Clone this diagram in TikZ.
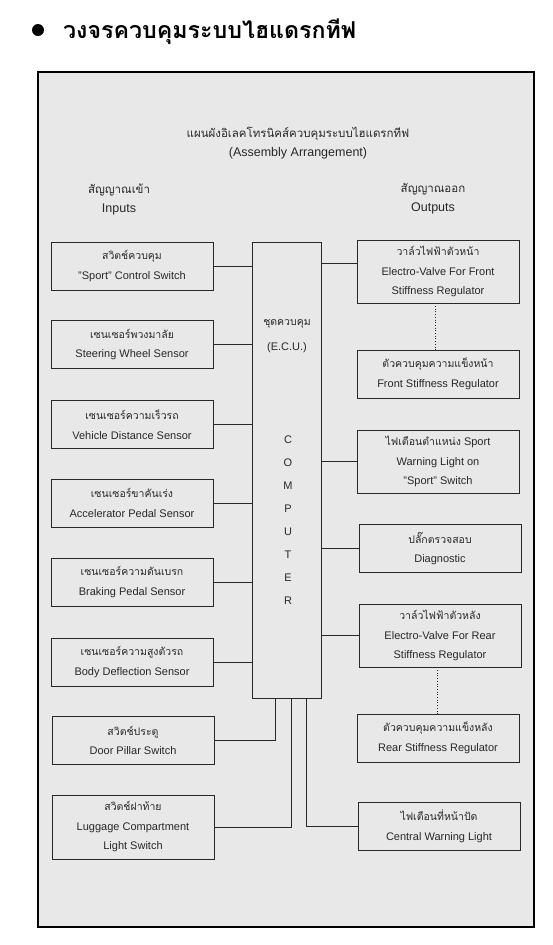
\documentclass[tikz,border=0pt]{standalone}
\usepackage{fontspec}
\setmainfont{Liberation Sans}
\newfontfamily\thaifont[Script=Thai]{Loma}
\definecolor{panelgrey}{RGB}{232,232,232}
\definecolor{inkgrey}{RGB}{40,40,40}

\begin{document}
\begin{tikzpicture}[x=1pt, y=-1pt,
    box/.style={draw=inkgrey, line width=0.7pt, minimum width=162pt, minimum height=48pt,
        align=center, inner sep=0pt, text=inkgrey, font=\fontsize{11}{19.5}\selectfont},
    tallbox/.style={box, minimum height=63pt},
    wire/.style={draw=inkgrey, line width=0.7pt},
    lbl/.style={align=center, text=inkgrey, font=\fontsize{12.5}{19}\selectfont}]
    \useasboundingbox (0,0) rectangle (552,945);

    % หัวเรื่อง
    \fill (38,30) circle (6);
    \node[anchor=west, inner sep=0pt] (title) at (63,32)
        {\fontsize{23.2}{25}\selectfont\thaifont\bfseries วงจรควบคุมระบบไฮแดรกทีฟ};

    % กรอบพื้นเทา
    \draw[line width=1.8pt, fill=panelgrey] (38,72) rectangle (534,927);

    \node[lbl] (head) at (298,143) {{\thaifont\fontsize{11.5}{19}\selectfont แผนผังอิเลคโทรนิคส์ควบคุมระบบไฮแดรกทีฟ}\\(Assembly Arrangement)};
    \node[lbl] (inhead) at (119,199) {{\thaifont\fontsize{11.5}{19}\selectfont สัญญาณเข้า}\\Inputs};
    \node[lbl] (outhead) at (433,199) {{\thaifont\fontsize{11.5}{19}\selectfont สัญญาณออก}\\Outputs};

    % สัญญาณเข้า
    \node[box] (sportsw) at (132,266) {{\thaifont\fontsize{10.5}{19.5}\selectfont สวิตช์ควบคุม}\\"Sport" Control Switch};
    \node[box] (steer) at (132,344.5) {{\thaifont\fontsize{10.5}{19.5}\selectfont เซนเซอร์พวงมาลัย}\\Steering Wheel Sensor};
    \node[box] (speed) at (132,424.5) {{\thaifont\fontsize{10.5}{19.5}\selectfont เซนเซอร์ความเร็วรถ}\\Vehicle Distance Sensor};
    \node[box] (accel) at (132,503) {{\thaifont\fontsize{10.5}{19.5}\selectfont เซนเซอร์ขาคันเร่ง}\\Accelerator Pedal Sensor};
    \node[box] (brake) at (132,582) {{\thaifont\fontsize{10.5}{19.5}\selectfont เซนเซอร์ความดันเบรก}\\Braking Pedal Sensor};
    \node[box] (height) at (132,662) {{\thaifont\fontsize{10.5}{19.5}\selectfont เซนเซอร์ความสูงตัวรถ}\\Body Deflection Sensor};
    \node[box] (door) at (133,740.5) {{\thaifont\fontsize{10.5}{19.5}\selectfont สวิตช์ประตู}\\Door Pillar Switch};
    \node[tallbox, minimum height=64pt] (boot) at (133,827) {{\thaifont\fontsize{10.5}{19.5}\selectfont สวิตช์ฝาท้าย}\\Luggage Compartment\\Light Switch};

    % ชุดควบคุม
    \node[draw=inkgrey, line width=0.7pt, minimum width=69pt, minimum height=456pt] (ecu) at (286.5,470) {};
    \node[lbl, font=\fontsize{11}{25}\selectfont] (ecuname) at (287,336) {{\thaifont\fontsize{10.5}{25}\selectfont ชุดควบคุม}\\(E.C.U.)};
    \node[lbl, font=\fontsize{11}{23}\selectfont] (comp) at (288,520) {C\\O\\M\\P\\U\\T\\E\\R};

    % สัญญาณออก
    \node[tallbox] (fvalve) at (438,271.5) {{\thaifont\fontsize{10.5}{19.5}\selectfont วาล์วไฟฟ้าตัวหน้า}\\Electro-Valve For Front\\Stiffness Regulator};
    \node[box] (freg) at (438,374) {{\thaifont\fontsize{10.5}{19.5}\selectfont ตัวควบคุมความแข็งหน้า}\\Front Stiffness Regulator};
    \node[tallbox] (sportlamp) at (438,461.5) {{\thaifont\fontsize{10.5}{19.5}\selectfont ไฟเตือนตำแหน่ง} Sport\\Warning Light on\\"Sport" Switch};
    \node[box] (diag) at (440,548.5) {{\thaifont\fontsize{10.5}{19.5}\selectfont ปลั๊กตรวจสอบ}\\Diagnostic};
    \node[tallbox] (rvalve) at (440,635.5) {{\thaifont\fontsize{10.5}{19.5}\selectfont วาล์วไฟฟ้าตัวหลัง}\\Electro-Valve For Rear\\Stiffness Regulator};
    \node[box] (rreg) at (438,738) {{\thaifont\fontsize{10.5}{19.5}\selectfont ตัวควบคุมความแข็งหลัง}\\Rear Stiffness Regulator};
    \node[box] (warnlamp) at (439,826) {{\thaifont\fontsize{10.5}{19.5}\selectfont ไฟเตือนที่หน้าปัด}\\Central Warning Light};

    % สายเข้า
    \foreach \n in {sportsw, steer, speed, accel, brake, height}
        \draw[wire] (\n.east) -- (\n.east -| ecu.west);
    \draw[wire] (door.east) -| ([xshift=-11.5pt]ecu.south);
    \draw[wire] (boot.east) -| ([xshift=4.5pt]ecu.south);

    % สายออก
    \draw[wire] ([yshift=8.5pt]fvalve.west) -- ([yshift=8.5pt]fvalve.west -| ecu.east);
    \foreach \n in {sportlamp, diag, rvalve}
        \draw[wire] (\n.west) -- (\n.west -| ecu.east);
    \draw[wire] (warnlamp.west) -| ([xshift=19.5pt]ecu.south);
    \draw[wire, dotted] ([xshift=-3pt]fvalve.south) -- ([xshift=-3pt]fvalve.south |- freg.north);
    \draw[wire, dotted] ([xshift=-3pt]rvalve.south) -- ([xshift=-3pt]rvalve.south |- rreg.north);
\end{tikzpicture}
\end{document}
